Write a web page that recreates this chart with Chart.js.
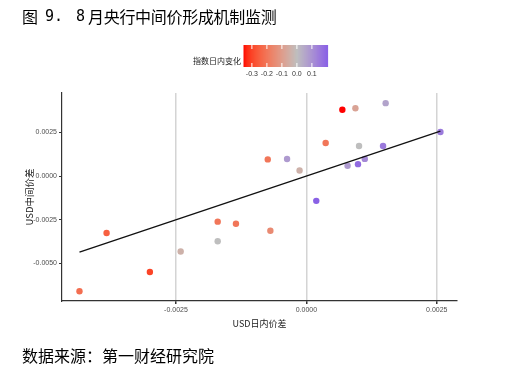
<!DOCTYPE html>
<html><head><meta charset="utf-8">
<script src="https://cdn.jsdelivr.net/npm/chart.js@4/dist/chart.umd.min.js"></script>
<style>
html,body{margin:0;padding:0;background:#fff;}
#wrap{position:relative;width:527px;height:380px;overflow:hidden;background:#fff;}
#c{position:absolute;left:0;top:0;}
.t{position:absolute;top:4px;font-family:'Noto Sans CJK SC';font-size:16px;white-space:pre;color:#000;line-height:24px;}
.tm{font-family:'DejaVu Sans Mono','Liberation Mono',monospace;font-size:15px;}
.src{position:absolute;left:22px;top:343px;font-family:'Noto Sans CJK SC';font-size:16px;white-space:pre;color:#000;line-height:24px;}
</style></head>
<body>
<div id="wrap">
<canvas id="c" width="527" height="380"></canvas>
<div class="t" style="left:22px">图</div>
<div class="t tm" style="left:45px">9.</div>
<div class="t tm" style="left:76px">8</div>
<div class="t" style="left:88px;letter-spacing:-0.3px">月央行中间价形成机制监测</div>
<div class="src">数据来源：第一财经研究院</div>
</div>
<script>
// USD intraday spread (x), USD central parity spread (y), index intraday change (colour)
const usdIntraday = [-0.00435,-0.00383,-0.00300,-0.00241,-0.00170,-0.00170,-0.00135,-0.00069,-0.00074,-0.00037,-0.00013,0.00019,0.00037,0.00069,0.00094,0.00152,0.00101,0.00079,0.00099,0.00112,0.00147,0.00257];
const usdParity   = [-0.00659,-0.00326,-0.00549,-0.00432,-0.00261,-0.00373,-0.00273,-0.00313,0.00095,0.00097,0.00032,-0.00142,0.00189,0.00379,0.00388,0.00417,0.00172,0.00059,0.00068,0.00098,0.00172,0.00252];
const indexChange = [-0.22,-0.25,-0.30,-0.04,-0.20,0.00,-0.20,-0.15,-0.20,0.08,-0.04,0.204,-0.20,-0.356,-0.08,0.06,0.00,0.08,0.18,0.12,0.15,0.15];
const xTickVals = [-0.0025, 0, 0.0025];
const yTickVals = [-0.005, -0.0025, 0, 0.0025];
const legendTickVals = [-0.3, -0.2, -0.1, 0.0, 0.1];
const legendTitle = '指数日内变化';
const xTitle = 'USD日内价差';
const yTitle = 'USD中间价差';

// ---- colour scale (gradient2: red - grey - blue, Lab interpolation) ----
function s2l(c){c/=255;return c<=0.04045?c/12.92:Math.pow((c+0.055)/1.055,2.4);}
function l2s(c){c=c<=0.0031308?12.92*c:1.055*Math.pow(c,1/2.4)-0.055;return Math.round(Math.max(0,Math.min(1,c))*255);}
function toLab(h){const r=s2l(parseInt(h.substr(1,2),16)),g=s2l(parseInt(h.substr(3,2),16)),b=s2l(parseInt(h.substr(5,2),16));
 const X=(0.4124*r+0.3576*g+0.1805*b)/0.95047,Y=0.2126*r+0.7152*g+0.0722*b,Z=(0.0193*r+0.1192*g+0.9505*b)/1.08883;
 const f=t=>t>0.008856?Math.cbrt(t):7.787*t+16/116;const fx=f(X),fy=f(Y),fz=f(Z);
 return [116*fy-16,500*(fx-fy),200*(fy-fz)];}
function fromLab(L,a,b){const fy=(L+16)/116,fx=fy+a/500,fz=fy-b/200;const fi=t=>t*t*t>0.008856?t*t*t:(t-16/116)/7.787;
 const X=fi(fx)*0.95047,Y=fi(fy),Z=fi(fz)*1.08883;
 const r=3.2406*X-1.5372*Y-0.4986*Z,g=-0.9689*X+1.8758*Y+0.0415*Z,bb=0.0557*X-0.2040*Y+1.0570*Z;
 return 'rgb('+l2s(r)+','+l2s(g)+','+l2s(bb)+')';}
const LOW=toLab('#FF0000'),MID=toLab('#BEBEBE'),HIGH=toLab('#0000FF');
const cMin=Math.min(...indexChange),cMax=Math.max(...indexChange);
const cHalf=Math.max(Math.abs(cMin),Math.abs(cMax));
function colorOf(v){const p=0.5+v/(2*cHalf);let A,B,t;
 if(p<0.5){A=LOW;B=MID;t=p/0.5;}else{A=MID;B=HIGH;t=(p-0.5)/0.5;}
 return fromLab(A[0]+(B[0]-A[0])*t,A[1]+(B[1]-A[1])*t,A[2]+(B[2]-A[2])*t);}

const pts = usdIntraday.map((x,i)=>({x:x,y:usdParity[i]}));
const colors = indexChange.map(colorOf);

// reference line y = x across the data range
const xLo=Math.min(...usdIntraday), xHi=Math.max(...usdIntraday);
const refPts=[{x:xLo,y:xLo},{x:xHi,y:xHi}];

const tickFont={family:"'Liberation Sans Narrow','Liberation Sans',sans-serif",size:7};
const fmt=v=>Number(v).toFixed(4);

const colorbar={id:'colorbar',afterDraw(chart){
 const ctx=chart.ctx;const x0=243.5,x1=327.5,y0=45,y1=67;
 const N=84;for(let i=0;i<N;i++){const v=cMin+(cMax-cMin)*(i+0.5)/N;ctx.fillStyle=colorOf(v);ctx.fillRect(x0+i*(x1-x0)/N,y0,(x1-x0)/N+0.6,y1-y0);}
 ctx.strokeStyle='#fff';ctx.lineWidth=1;
 ctx.font="7px 'Liberation Sans Narrow','Liberation Sans',sans-serif";ctx.fillStyle='#333';ctx.textAlign='center';ctx.textBaseline='middle';
 legendTickVals.forEach(v=>{const x=x0+(v-cMin)/(cMax-cMin)*(x1-x0);
  ctx.beginPath();ctx.moveTo(x,y0);ctx.lineTo(x,y0+4);ctx.moveTo(x,y1);ctx.lineTo(x,y1-4);ctx.stroke();
  ctx.fillText(v.toFixed(1),x,74.5);});
 ctx.font="8px 'Noto Sans CJK SC'";ctx.textAlign='right';ctx.fillStyle='#222';
 ctx.fillText(legendTitle,241,61);
}};

new Chart(document.getElementById('c'),{
 type:'scatter',
 data:{datasets:[
  {type:'line',data:refPts,borderColor:'#111',borderWidth:1.3,pointRadius:0,fill:false,order:0},
  {data:pts,backgroundColor:colors,borderWidth:0,pointRadius:3.2,order:1}
 ]},
 options:{responsive:false,animation:false,
  layout:{padding:{left:0,top:93,right:70,bottom:0}},
  plugins:{legend:{display:false},tooltip:{enabled:false}},
  scales:{
   x:{type:'linear',min:-0.004685,max:0.002888,
    afterBuildTicks:s=>{s.ticks=xTickVals.map(v=>({value:v}));},
    afterFit:s=>{s.height=79;},
    grid:{color:'#d4d4d4',lineWidth:1.5,tickColor:'#333',tickLength:3,drawOnChartArea:true},
    border:{color:'#333',width:1.2},
    ticks:{font:tickFont,color:'#4d4d4d',padding:2,maxRotation:0,callback:fmt},
    title:{display:true,text:xTitle,font:{family:"'Liberation Sans Narrow','Noto Sans CJK SC',sans-serif",size:9},color:'#222',padding:{top:0,bottom:51}}
   },
   y:{type:'linear',min:-0.00715,max:0.00475,
    afterBuildTicks:s=>{s.ticks=yTickVals.map(v=>({value:v}));},
    afterFit:s=>{s.width=62;},
    grid:{color:'rgba(0,0,0,0)',tickColor:'#333',tickLength:3},
    border:{color:'#333',width:1.2},
    ticks:{font:tickFont,color:'#4d4d4d',padding:2,callback:fmt},
    title:{display:true,text:yTitle,font:{family:"'Liberation Sans Narrow','Noto Sans CJK SC',sans-serif",size:9.5},color:'#222',padding:{top:24,bottom:0}}
   }
  }
 },
 plugins:[colorbar]
});
</script>
</body></html>
